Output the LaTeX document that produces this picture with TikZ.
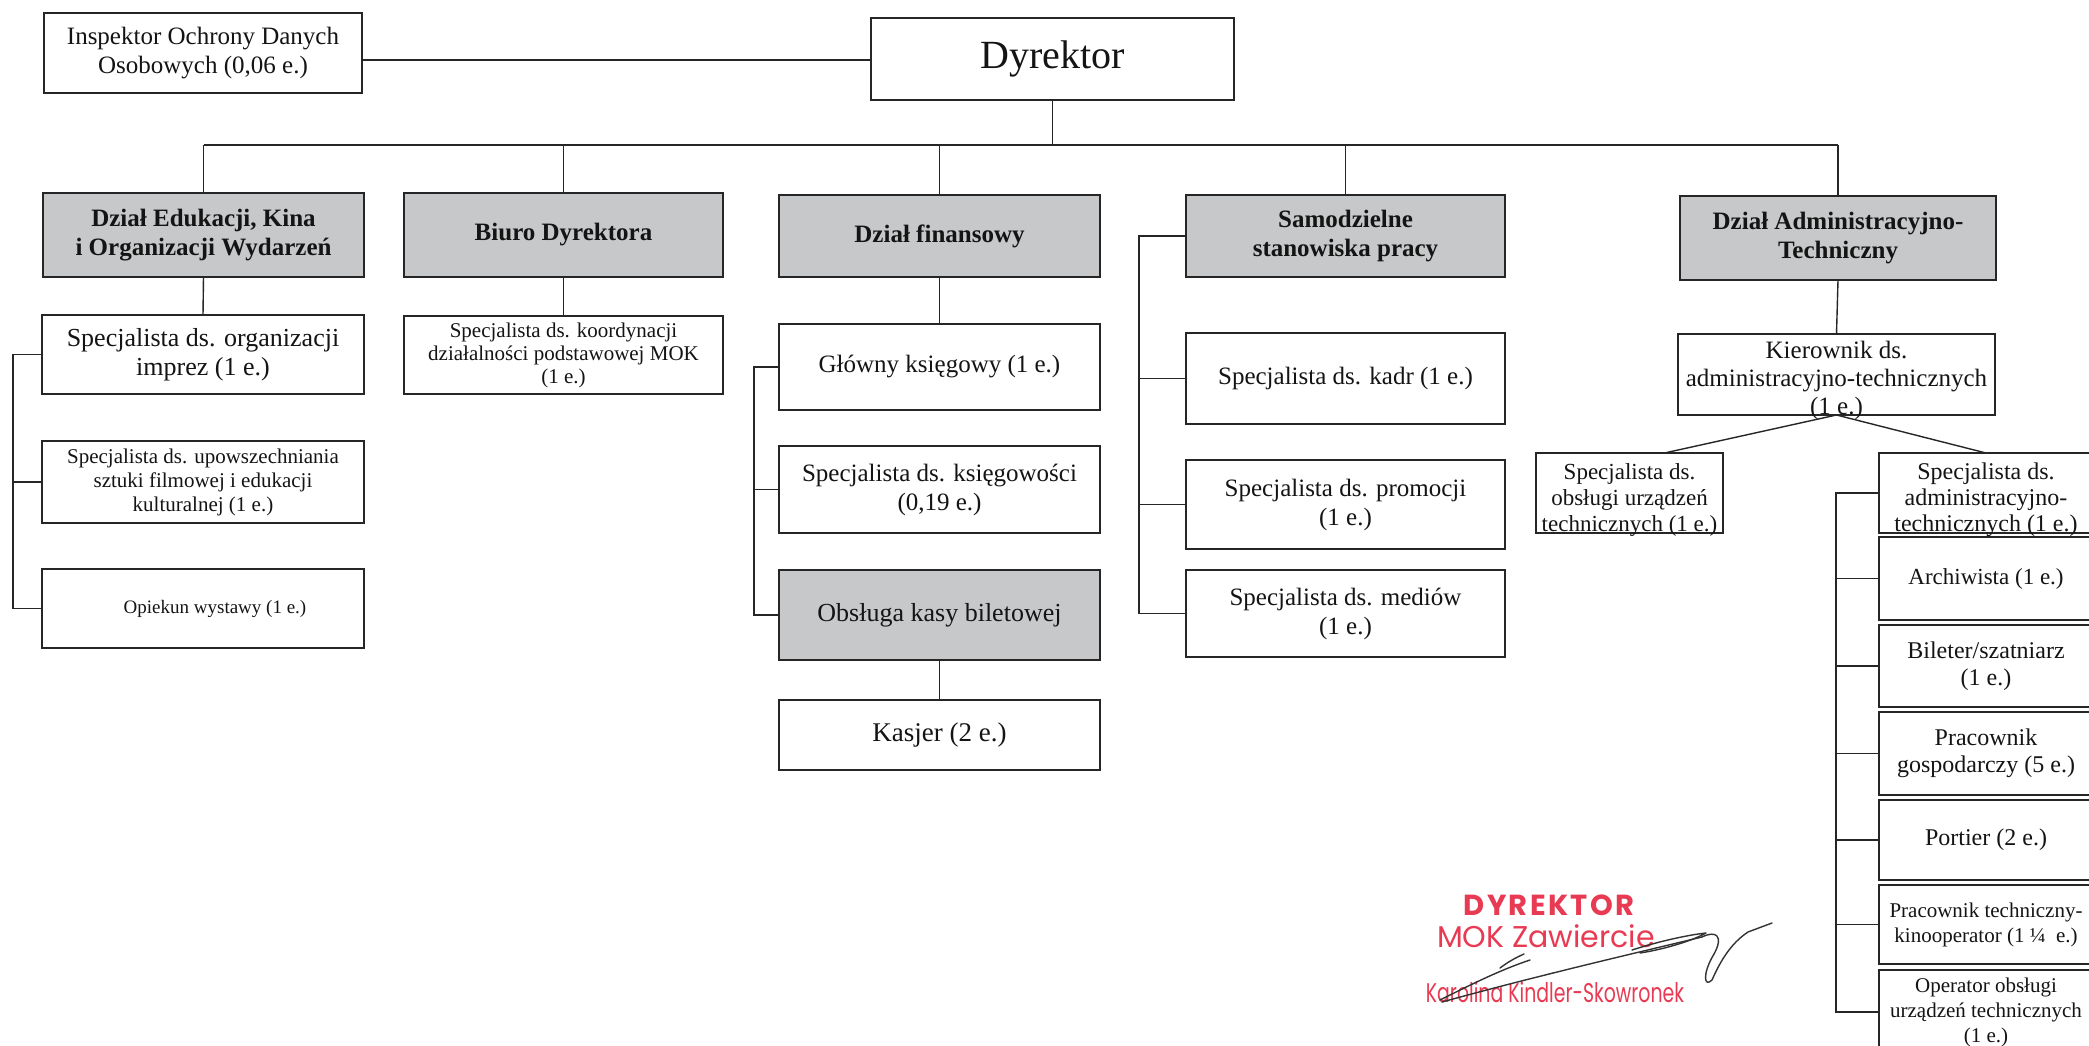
\documentclass[tikz,border=0pt]{standalone}
\usepackage{fontspec}
\usepackage{graphicx}
\setmainfont{Liberation Serif}
\newfontfamily\stampfont{Poppins}
\usetikzlibrary{calc}
\definecolor{deptgray}{RGB}{198,200,201}
\definecolor{stampred}{RGB}{232,58,82}
\newcommand{\fs}[2]{\fontsize{#1}{#2}\selectfont}
\tikzset{
  box/.style={draw=black!85, line width=1.8pt, fill=white, inner sep=0pt, outer sep=0pt},
  gbox/.style={box, fill=deptgray},
  conn/.style={draw=black!85, line width=1.4pt},
  txt/.style={align=center, inner sep=0pt, text=black!92},
  sig/.style={draw=black!80, line width=1.4pt, line cap=round, line join=round},
  stamp/.style={inner sep=0pt, text=stampred, font=\stampfont}
}
\newcommand{\bx}[8]{%
  \node[#6, minimum width={#4-#2}, minimum height={#5-#3}] (#1) at ({(#2+#4)/2},{(#3+#5)/2}) {};
  \node[txt,#7] (#1t) at (#1.center) {#8};}
\begin{document}
\begin{tikzpicture}[x=1pt,y=-1pt]
\clip (0,0) rectangle (2089,1046);
\fill[white] (0,0) rectangle (2089,1046);

% top
\bx{insp}{44}{13}{362}{93}{box}{font=\fs{25}{29}}{Inspektor Ochrony Danych\\Osobowych (0,06 e.)}
\bx{dyr}{871}{18}{1234}{100}{box}{font=\fs{40}{44}}{Dyrektor}
\draw[conn] ([yshift=-7pt]insp.east) -- ([yshift=-7pt]insp.east -| dyr.west);

% departments
\bx{dep1}{43}{193}{364}{277}{gbox}{font=\fs{25}{29}\bfseries}{Dział Edukacji, Kina\\i Organizacji Wydarzeń}
\bx{dep2}{404}{193}{723}{277}{gbox}{font=\fs{25}{29}\bfseries}{Biuro Dyrektora}
\bx{dep3}{779}{195}{1100}{277}{gbox}{font=\fs{25}{29}\bfseries}{Dział finansowy}
\bx{dep4}{1186}{195}{1505}{277}{gbox}{font=\fs{25}{29}\bfseries}{Samodzielne\\stanowiska pracy}
\bx{dep5}{1680}{196}{1996}{280}{gbox}{font=\fs{25}{29}\bfseries}{Dział Administracyjno-\\Techniczny}

\coordinate (bus) at (0,145);
\draw[conn] (dyr.south) -- (dyr.south |- bus);
\draw[conn] (dep1.north |- bus) -- (dep5.north |- bus);
\foreach \d in {dep1,dep2,dep3,dep4,dep5}{\draw[conn] (\d.north |- bus) -- (\d.north);}

% column 1
\bx{a1}{42}{315}{364}{394}{box}{font=\fs{26}{29}}{Specjalista ds. organizacji\\imprez (1 e.)}
\bx{a2}{42}{441}{364}{523}{box}{font=\fs{21}{24}}{Specjalista ds. upowszechniania\\sztuki filmowej i edukacji\\kulturalnej (1 e.)}
\bx{a3}{42}{569}{364}{648}{box}{font=\fs{19}{22},xshift=12pt}{Opiekun wystawy (1 e.)}
\draw[conn] (dep1.south) -- (a1.north);
\coordinate (brA) at (13,0);
\draw[conn] (a1.west) -- (a1.west -| brA) -- (a3.west -| brA) -- (a3.west);
\draw[conn] (a2.west) -- (a2.west -| brA);

% column 2
\bx{b1}{404}{316}{723}{394}{box}{font=\fs{21}{23}}{Specjalista ds. koordynacji\\działalności podstawowej MOK\\(1 e.)}
\draw[conn] (dep2.south) -- (b1.north);

% column 3
\bx{c1}{779}{324}{1100}{410}{box}{font=\fs{25}{29}}{Główny księgowy (1 e.)}
\bx{c2}{779}{446}{1100}{533}{box}{font=\fs{25}{29}}{Specjalista ds. księgowości\\(0,19 e.)}
\bx{c3}{779}{570}{1100}{660}{gbox}{font=\fs{26}{29}}{Obsługa kasy biletowej}
\bx{c4}{779}{700}{1100}{770}{box}{font=\fs{27}{30}}{Kasjer (2 e.)}
\draw[conn] (dep3.south) -- (c1.north);
\draw[conn] (c3.south) -- (c4.north);
\coordinate (brC) at (754,0);
\draw[conn] (c1.west) -- (c1.west -| brC) -- (c3.west -| brC) -- (c3.west);
\draw[conn] (c2.west) -- (c2.west -| brC);

% column 4
\bx{d1}{1186}{333}{1505}{424}{box}{font=\fs{25}{29}}{Specjalista ds. kadr (1 e.)}
\bx{d2}{1186}{460}{1505}{549}{box}{font=\fs{25}{29}}{Specjalista ds. promocji\\(1 e.)}
\bx{d3}{1186}{570}{1505}{657}{box}{font=\fs{25}{29}}{Specjalista ds. mediów\\(1 e.)}
\coordinate (brD) at (1139,0);
\draw[conn] (dep4.west) -- (dep4.west -| brD) -- (d3.west -| brD) -- (d3.west);
\foreach \d in {d1,d2}{\draw[conn] (\d.west) -- (\d.west -| brD);}

% column 5
\bx{e0}{1678}{334}{1995}{415}{box}{font=\fs{25}{28},yshift=-6pt}{Kierownik ds.\\administracyjno-technicznych\\(1 e.)}
\draw[conn] (dep5.south) -- (e0.north);
\bx{e1}{1536}{453}{1723}{533}{box}{font=\fs{23}{26},yshift=-7pt}{Specjalista ds.\\obsługi urządzeń\\technicznych (1 e.)}
\bx{e2}{1879}{453}{2093}{533}{box}{font=\fs{24}{26},yshift=-7pt}{Specjalista ds.\\administracyjno-\\technicznych (1 e.)}
\draw[conn] (e0.south) -- ($(e1.north)+(35,0)$);
\draw[conn] (e0.south) -- (e2.north);
\bx{e3}{1879}{537}{2093}{620}{box}{font=\fs{23}{27}}{Archiwista (1 e.)}
\bx{e4}{1879}{625}{2093}{707}{box}{font=\fs{24}{27}}{Bileter/szatniarz\\(1 e.)}
\bx{e5}{1879}{712}{2093}{795}{box}{font=\fs{24}{27}}{Pracownik\\gospodarczy (5 e.)}
\bx{e6}{1879}{800}{2093}{880}{box}{font=\fs{24}{27}}{Portier (2 e.)}
\bx{e7}{1879}{885}{2093}{964}{box}{font=\fs{21}{25}}{Pracownik techniczny-\\kinooperator (1 ¼~ e.)}
\bx{e8}{1879}{970}{2093}{1054}{box}{font=\fs{21}{25}}{Operator obsługi\\urządzeń technicznych\\(1 e.)}
\coordinate (brE) at (1836,0);
\draw[conn] (e2.west) -- (e2.west -| brE) -- (e8.west -| brE) -- (e8.west);
\foreach \d in {e3,e4,e5,e6,e7}{\draw[conn] (\d.west) -- (\d.west -| brE);}

% stamp
\node[stamp, font=\stampfont\bfseries\fs{29}{32}\addfontfeature{LetterSpace=8}] (st1) at (1549,905) {DYREKTOR};
\node[stamp, font=\stampfont\fs{30}{33}] (st2) at (1546,936) {MOK Zawiercie};
\node[stamp, font=\stampfont\fs{27}{30}] (st3) at (1555,992) {\scalebox{0.7}[1]{Karolina Kindler-Skowronek}};

% signature
\draw[sig] (1440,1000) .. controls (1470,985) and (1500,970) .. (1530,960);
\draw[sig] (1442,1002) .. controls (1540,975) and (1640,952) .. (1702,937);
\draw[sig] (1632,950) .. controls (1660,941) and (1688,935) .. (1706,933) .. controls (1690,942) and (1660,950) .. (1640,953);
\draw[sig] (1702,937) .. controls (1716,930) and (1724,936) .. (1714,954) .. controls (1702,974) and (1704,988) .. (1712,980) .. controls (1720,962) and (1730,944) .. (1748,932) -- (1772,923);
\draw[sig] (1500,968) .. controls (1508,962) and (1515,958) .. (1524,954);
\end{tikzpicture}
\end{document}
